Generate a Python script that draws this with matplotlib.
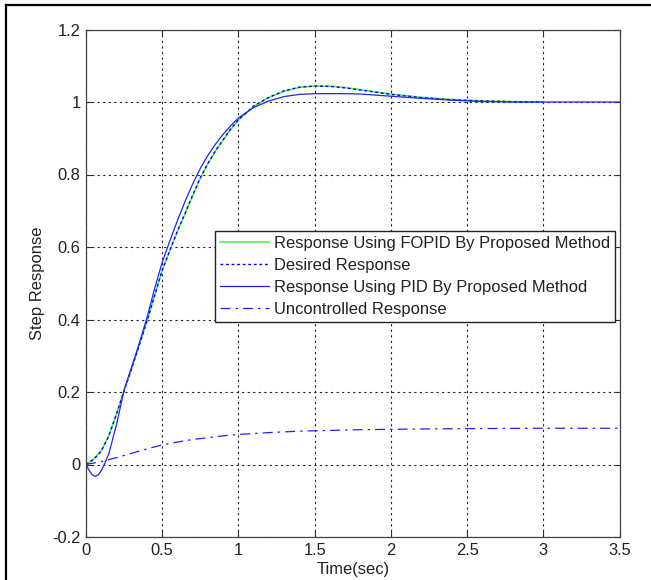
import matplotlib
matplotlib.use("Agg")
import matplotlib.pyplot as plt
from matplotlib.lines import Line2D

plt.rcParams['font.family'] = ['Liberation Sans', 'DejaVu Sans']

# ---- data ----
t_fopid = [0, 0.05, 0.1, 0.15, 0.2, 0.25, 0.3, 0.35, 0.4, 0.45, 0.5, 0.55, 0.6,
           0.65, 0.7, 0.75, 0.8, 0.85, 0.9, 0.95, 1.0, 1.1, 1.2, 1.3, 1.4, 1.5,
           1.6, 1.7, 1.8, 1.9, 2.0, 2.2, 2.4, 2.6, 2.8, 3.0]
y_fopid = [0, 0.015, 0.038, 0.08, 0.14, 0.205, 0.265, 0.33, 0.395, 0.465, 0.535,
           0.59, 0.643, 0.692, 0.742, 0.79, 0.83, 0.865, 0.895, 0.925, 0.95,
           0.988, 1.012, 1.03, 1.04, 1.044, 1.044, 1.04, 1.034, 1.028, 1.022,
           1.013, 1.007, 1.003, 1.001, 1.0]

t_desired = [0, 0.05, 0.1, 0.15, 0.2, 0.25, 0.3, 0.35, 0.4, 0.45, 0.5, 0.55, 0.6,
             0.65, 0.7, 0.75, 0.8, 0.85, 0.9, 0.95, 1.0, 1.1, 1.2, 1.3, 1.4, 1.5,
             1.6, 1.7, 1.8, 1.9, 2.0, 2.2, 2.4, 2.6, 2.8, 3.0]
y_desired = [0, 0.014, 0.037, 0.079, 0.139, 0.204, 0.265, 0.33, 0.396, 0.466, 0.536,
             0.591, 0.644, 0.693, 0.743, 0.791, 0.831, 0.866, 0.896, 0.926, 0.951,
             0.989, 1.013, 1.031, 1.041, 1.044, 1.043, 1.039, 1.033, 1.027, 1.021,
             1.012, 1.006, 1.003, 1.001, 1.0]

t_pid = [0, 0.02, 0.04, 0.06, 0.08, 0.1, 0.12, 0.15, 0.2, 0.25, 0.3, 0.35, 0.4,
         0.45, 0.5, 0.55, 0.6, 0.65, 0.7, 0.75, 0.8, 0.85, 0.9, 0.95, 1.0, 1.1,
         1.2, 1.3, 1.4, 1.5, 1.6, 1.7, 1.8, 1.9, 2.0, 2.2, 2.4, 2.6, 2.8, 3.0, 3.5]
y_pid = [0, -0.016, -0.028, -0.033, -0.029, -0.017, 0.0, 0.03, 0.11, 0.205, 0.27,
         0.335, 0.405, 0.485, 0.558, 0.617, 0.673, 0.726, 0.774, 0.817, 0.853, 0.884,
         0.911, 0.935, 0.956, 0.985, 1.003, 1.015, 1.021, 1.023, 1.023, 1.023,
         1.022, 1.019, 1.016, 1.01, 1.005, 1.001, 1.0, 1.0, 1.0]

t_unc = [0, 0.1, 0.2, 0.3, 0.4, 0.5, 0.6, 0.7, 0.8, 0.9, 1.0, 1.2, 1.4, 1.6, 1.8,
         2.0, 2.2, 2.5, 3.0, 3.5]
y_unc = [0, 0.008, 0.019, 0.031, 0.043, 0.054, 0.062, 0.069, 0.074, 0.079, 0.083,
         0.088, 0.092, 0.094, 0.096, 0.097, 0.098, 0.099, 0.1, 0.1]

labels = ['Response Using FOPID By Proposed Method', 'Desired Response',
          'Response Using PID By Proposed Method', 'Uncontrolled Response']
x_ticks = [0, 0.5, 1, 1.5, 2, 2.5, 3, 3.5]
x_ticklabels = ['0', '0.5', '1', '1.5', '2', '2.5', '3', '3.5']
y_ticks = [-0.2, 0, 0.2, 0.4, 0.6, 0.8, 1, 1.2]
y_ticklabels = ['-0.2', '0', '0.2', '0.4', '0.6', '0.8', '1', '1.2']

FS = 11.9

# ---- figure ----
W, H = 651, 580
fig = plt.figure(figsize=(W / 100, H / 100), dpi=100)
fig.patch.set_facecolor('white')
ax = fig.add_axes([86 / W, 1 - 537 / H, (619.5 - 86) / W, (537 - 29.5) / H])

ax.plot(t_fopid, y_fopid, color='#44ee44', lw=1.1, label=labels[0])
ax.plot(t_desired, y_desired, color='#0000ff', lw=1.0, ls=(0, (2, 2)), label=labels[1])
ax.plot(t_pid, y_pid, color='#2222ff', lw=0.9, label=labels[2])
ax.plot(t_unc, y_unc, color='#2222ff', lw=0.9, ls=(0, (8, 4, 2, 4)), label=labels[3])

ax.set_xlim(0, 3.5)
ax.set_ylim(-0.2, 1.2)
ax.set_xticks(x_ticks)
ax.set_xticklabels(x_ticklabels)
ax.set_yticks(y_ticks)
ax.set_yticklabels(y_ticklabels)
ax.tick_params(direction='in', length=4, width=0.8, colors='#333333',
               labelcolor='#222222', labelsize=FS, top=True, right=True, pad=4)
for s in ax.spines.values():
    s.set_color('#444444')
    s.set_linewidth(0.9)
ax.grid(True, color='#222222', linestyle=(0, (2, 3)), linewidth=0.8)

ax.set_xlabel('Time(sec)', fontsize=FS, color='#222222', labelpad=3)
ax.set_ylabel('Step Response', fontsize=FS, color='#222222', labelpad=5)

leg = ax.legend(loc='upper right', bbox_to_anchor=(0.9916, 0.603), fontsize=FS,
                frameon=True, fancybox=False, shadow=False, framealpha=1,
                edgecolor='#222222', handlelength=2.95, handletextpad=0.3,
                labelspacing=0.42, borderpad=0.3, borderaxespad=0)
leg.get_frame().set_linewidth(1.0)
for txt in leg.get_texts():
    txt.set_color('#222222')

# figure border (left and top visible)
fig.add_artist(Line2D([5.5 / W, 5.5 / W], [0, 1 - 5 / H], color='black', lw=1.6,
                      transform=fig.transFigure))
fig.add_artist(Line2D([5.5 / W, 1], [1 - 5 / H, 1 - 5 / H], color='black', lw=1.6,
                      transform=fig.transFigure))

fig.savefig('out.png', dpi=100)
